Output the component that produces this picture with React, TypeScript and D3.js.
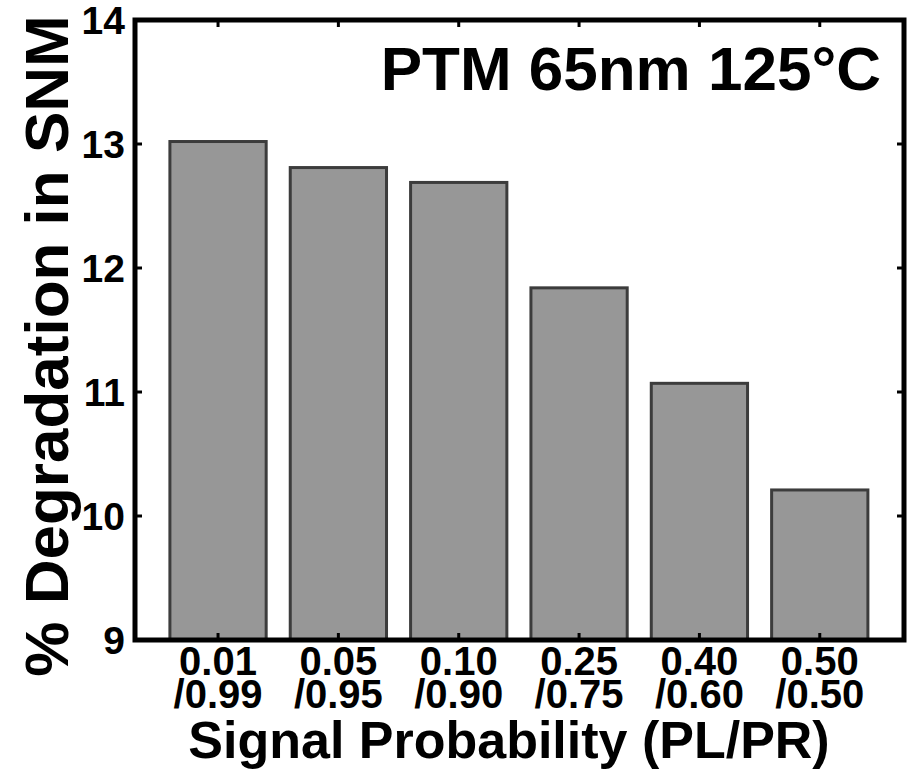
import React from "react";
import * as d3 from "d3";

const categoriesTop = ["0.01", "0.05", "0.10", "0.25", "0.40", "0.50"];
const categoriesBottom = ["/0.99", "/0.95", "/0.90", "/0.75", "/0.60", "/0.50"];
const values = [13.02, 12.81, 12.69, 11.84, 11.07, 10.21];
const yTicks = [9, 10, 11, 12, 13, 14];

const W = 913;
const H = 771;
const margin = { left: 135, right: 904, top: 20, bottom: 640 };
const FONT = "'Liberation Sans', Arial, Helvetica, sans-serif";

export default function App() {
  const x = d3.scaleLinear().domain([0.31, 6.7]).range([margin.left, margin.right]);
  const y = d3.scaleLinear().domain([9, 14]).range([margin.bottom, margin.top]);
  const barW = (x(1.8) - x(1.0));
  const tickLen = 7;

  return (
    <svg
      width={W}
      height={H}
      style={{ position: "absolute", left: 0, top: 0, background: "#fff" }}
      fontFamily={FONT}
    >
      <rect x={0} y={0} width={W} height={H} fill="#fff" />
      {values.map((v, i) => (
        <rect
          key={i}
          x={x(i + 1) - barW / 2}
          y={y(v)}
          width={barW}
          height={y(9) - y(v)}
          fill="#979797"
          stroke="#3c3c3c"
          strokeWidth={3}
        />
      ))}
      {/* ticks */}
      {yTicks.map((t) => (
        <g key={"yt" + t}>
          <line x1={margin.left} x2={margin.left + tickLen} y1={y(t)} y2={y(t)} stroke="#000" strokeWidth={3} />
          <line x1={margin.right} x2={margin.right - tickLen} y1={y(t)} y2={y(t)} stroke="#000" strokeWidth={3} />
          <text
            x={125}
            y={y(t)}
            textAnchor="end"
            dominantBaseline="central"
            fontSize={39}
            fontWeight="bold"
          >
            {t}
          </text>
        </g>
      ))}
      {values.map((_, i) => (
        <g key={"xt" + i}>
          <line x1={x(i + 1)} x2={x(i + 1)} y1={margin.bottom} y2={margin.bottom - tickLen} stroke="#000" strokeWidth={3} />
          <line x1={x(i + 1)} x2={x(i + 1)} y1={margin.top} y2={margin.top + tickLen} stroke="#000" strokeWidth={3} />
          <text x={x(i + 1)} y={675} textAnchor="middle" fontSize={40} fontWeight="bold">
            {categoriesTop[i]}
          </text>
          <text x={x(i + 1)} y={708} textAnchor="middle" fontSize={40} fontWeight="bold">
            {categoriesBottom[i]}
          </text>
        </g>
      ))}
      {/* frame */}
      <rect
        x={margin.left}
        y={margin.top}
        width={margin.right - margin.left}
        height={margin.bottom - margin.top}
        fill="none"
        stroke="#000"
        strokeWidth={5}
      />
      <text x={881} y={90} textAnchor="end" fontSize={62} fontWeight="bold">
        PTM 65nm 125°C
      </text>
      <text x={509} y={758} textAnchor="middle" fontSize={52} fontWeight="bold">
        Signal Probability (PL/PR)
      </text>
      <text
        transform={`translate(68, 346) rotate(-90)`}
        textAnchor="middle"
        fontSize={62}
        fontWeight="bold"
      >
        % Degradation in SNM
      </text>
    </svg>
  );
}
